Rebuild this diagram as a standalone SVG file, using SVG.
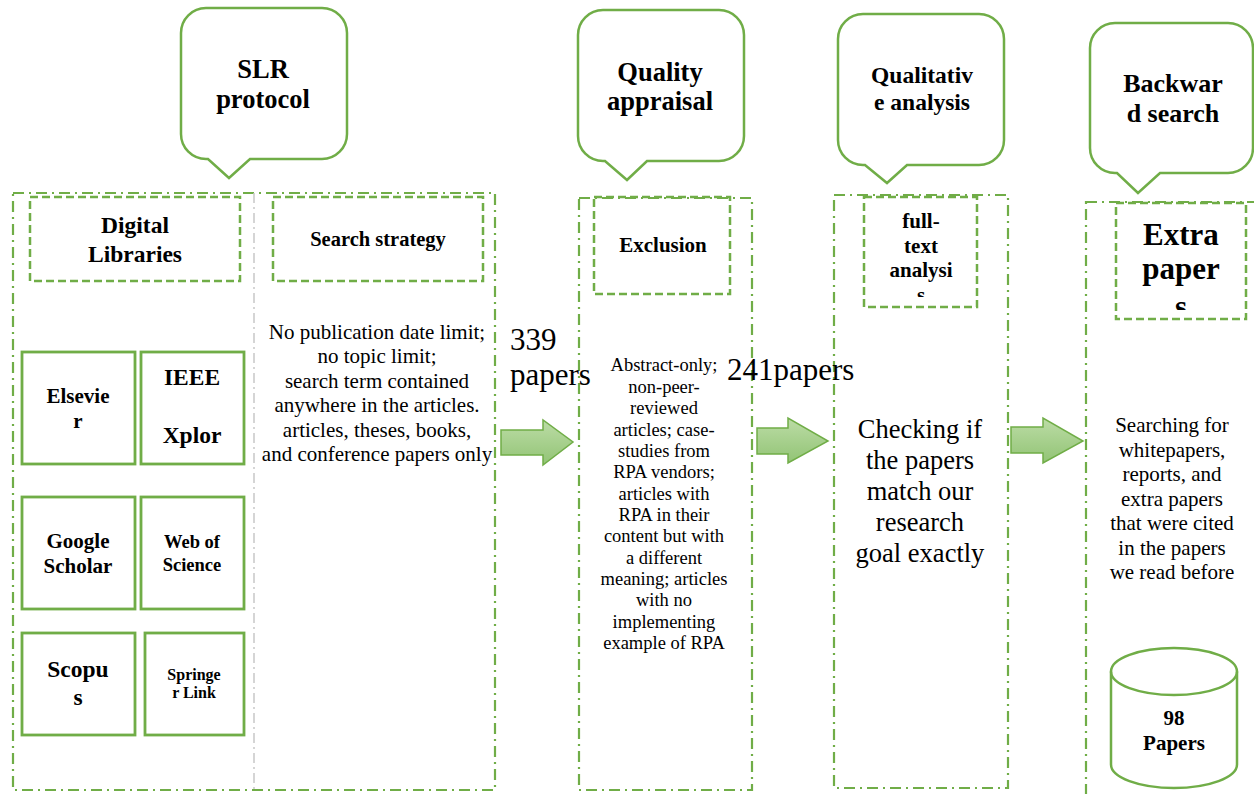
<svg xmlns="http://www.w3.org/2000/svg" width="1254" height="794" viewBox="0 0 1254 794">
<style>
  .callout{fill:#fff;stroke:#70ad47;stroke-width:2.5;}
  .cont{fill:none;stroke:#70ad47;stroke-width:2.2;stroke-dasharray:11 5 2 5;}
  .dbox{fill:none;stroke:#70ad47;stroke-width:2.5;stroke-dasharray:8 4;}
  .lib{fill:#fff;stroke:#70ad47;stroke-width:2.8;}
  .arrow{fill:url(#ag);stroke:#70ad47;stroke-width:1.5;}
  .divider{stroke:#c8c8c8;stroke-width:1.5;stroke-dasharray:10 4 2 4;fill:none;}
  text{font-family:"Liberation Serif","Times New Roman",serif;fill:#000;text-anchor:middle;}
  .b{font-weight:bold;}
</style>
<defs>
  <linearGradient id="ag" x1="0" y1="0" x2="0" y2="1">
    <stop offset="0" stop-color="#bcdca6"/>
    <stop offset="1" stop-color="#92c475"/>
  </linearGradient>
  <clipPath id="clipFT"><rect x="864" y="197" width="113" height="100"/></clipPath>
  <clipPath id="clipEP"><rect x="1116" y="203" width="130" height="107"/></clipPath>
</defs>
<rect width="1254" height="794" fill="#fff"/>

<g id="slr-protocol">
  <path class="callout" d="M206,8 H322 A25,25 0 0 1 347,33 V134 A25,25 0 0 1 322,159 H250 L229,178 L208,159 H206 A25,25 0 0 1 181,134 V33 A25,25 0 0 1 206,8 Z"/>
  <text class="b" x="263" y="78" font-size="26.5">SLR</text>
  <text class="b" x="263" y="108" font-size="26.5">protocol</text>
</g>
<g id="slr-container">
  <rect class="cont" x="13" y="193" width="482" height="597"/>
  <line class="divider" x1="254" y1="193" x2="254" y2="790"/>
</g>
<g id="digital-libraries">
  <rect class="dbox" x="30" y="197" width="210" height="84"/>
  <text class="b" x="135" y="233" font-size="23.5">Digital</text>
  <text class="b" x="135" y="262" font-size="23.5">Libraries</text>
</g>
<g id="search-strategy">
  <rect class="dbox" x="273" y="197" width="210" height="84"/>
  <text class="b" x="378" y="246" font-size="20.5">Search strategy</text>
</g>
<g id="search-strategy-text" font-size="21">
  <text x="377" y="338.5">No publication date limit;</text>
  <text x="377" y="363">no topic limit;</text>
  <text x="377" y="387.5">search term contained</text>
  <text x="377" y="412">anywhere in the articles.</text>
  <text x="377" y="436.5">articles, theses, books,</text>
  <text x="377" y="461">and conference papers only</text>
</g>
<g id="elsevier">
  <rect class="lib" x="22" y="352" width="113" height="112"/>
  <text class="b" x="78" y="403" font-size="21">Elsevie</text>
  <text class="b" x="78" y="428" font-size="21">r</text>
</g>
<g id="ieee-xplor">
  <rect class="lib" x="141" y="352" width="103" height="112"/>
  <text class="b" x="192" y="385" font-size="23.5">IEEE</text>
  <text class="b" x="192" y="443" font-size="23.5">Xplor</text>
</g>
<g id="google-scholar">
  <rect class="lib" x="22" y="497" width="113" height="112"/>
  <text class="b" x="78" y="548" font-size="21">Google</text>
  <text class="b" x="78" y="573" font-size="21">Scholar</text>
</g>
<g id="web-of-science">
  <rect class="lib" x="141" y="497" width="103" height="112"/>
  <text class="b" x="192" y="548" font-size="18.5">Web of</text>
  <text class="b" x="192" y="571" font-size="18.5">Science</text>
</g>
<g id="scopus">
  <rect class="lib" x="22" y="633" width="113" height="102"/>
  <text class="b" x="78" y="677" font-size="23.5">Scopu</text>
  <text class="b" x="78" y="705" font-size="23.5">s</text>
</g>
<g id="springer-link">
  <rect class="lib" x="145" y="633" width="99" height="102"/>
  <text class="b" x="194" y="680" font-size="16">Springe</text>
  <text class="b" x="194" y="698" font-size="16">r Link</text>
</g>

<g id="quality-appraisal">
  <path class="callout" d="M603,10 H719 A25,25 0 0 1 744,35 V136 A25,25 0 0 1 719,161 H647 L627,180 L605,161 H603 A25,25 0 0 1 578,136 V35 A25,25 0 0 1 603,10 Z"/>
  <text class="b" x="660" y="81" font-size="26.5">Quality</text>
  <text class="b" x="660" y="110" font-size="26.5">appraisal</text>
</g>
<g id="quality-container">
  <rect class="cont" x="579" y="198" width="173" height="592"/>
</g>
<g id="exclusion">
  <rect class="dbox" x="594" y="197" width="136" height="97"/>
  <text class="b" x="663" y="252" font-size="21">Exclusion</text>
</g>
<g id="exclusion-text" font-size="18.5">
  <text x="664" y="371">Abstract-only;</text>
  <text x="664" y="392.5">non-peer-</text>
  <text x="664" y="414">reviewed</text>
  <text x="664" y="435.5">articles; case-</text>
  <text x="664" y="457">studies from</text>
  <text x="664" y="478">RPA vendors;</text>
  <text x="664" y="499.5">articles with</text>
  <text x="664" y="521">RPA in their</text>
  <text x="664" y="542">content but with</text>
  <text x="664" y="563.5">a different</text>
  <text x="664" y="585">meaning; articles</text>
  <text x="664" y="606">with no</text>
  <text x="664" y="627.5">implementing</text>
  <text x="664" y="649">example of RPA</text>
</g>

<g id="qualitative-analysis">
  <path class="callout" d="M863,14 H979 A25,25 0 0 1 1004,39 V140 A25,25 0 0 1 979,165 H907 L887,183 L865,165 H863 A25,25 0 0 1 838,140 V39 A25,25 0 0 1 863,14 Z"/>
  <text class="b" x="922" y="83" font-size="23.5">Qualitativ</text>
  <text class="b" x="922" y="110" font-size="23.5">e analysis</text>
</g>
<g id="qualitative-container">
  <rect class="cont" x="834" y="195" width="174" height="593"/>
</g>
<g id="full-text-analysis">
  <rect class="dbox" x="864" y="197" width="113" height="110"/>
  <g clip-path="url(#clipFT)" font-size="21">
    <text class="b" x="921" y="228">full-</text>
    <text class="b" x="921" y="253">text</text>
    <text class="b" x="921" y="277">analysi</text>
    <text class="b" x="921" y="302">s</text>
  </g>
</g>
<g id="checking-text" font-size="26.5">
  <text x="920" y="438">Checking if</text>
  <text x="920" y="469">the papers</text>
  <text x="920" y="500">match our</text>
  <text x="920" y="531">research</text>
  <text x="920" y="562">goal exactly</text>
</g>

<g id="backward-search">
  <path class="callout" d="M1115,23 H1228 A25,25 0 0 1 1253,48 V148 A25,25 0 0 1 1228,173 H1160 L1138,193 L1117,173 H1115 A25,25 0 0 1 1090,148 V48 A25,25 0 0 1 1115,23 Z"/>
  <text class="b" x="1173" y="92" font-size="26">Backwar</text>
  <text class="b" x="1173" y="122" font-size="26">d search</text>
</g>
<g id="backward-container">
  <rect class="cont" x="1086" y="202" width="220" height="640"/>
</g>
<g id="extra-papers">
  <rect class="dbox" x="1116" y="203" width="130" height="116"/>
  <g clip-path="url(#clipEP)" font-size="31">
    <text class="b" x="1181" y="245">Extra</text>
    <text class="b" x="1181" y="279">paper</text>
    <text class="b" x="1181" y="317">s</text>
  </g>
</g>
<g id="searching-text" font-size="21">
  <text x="1172" y="432">Searching for</text>
  <text x="1172" y="456.5">whitepapers,</text>
  <text x="1172" y="481">reports, and</text>
  <text x="1172" y="505.5">extra papers</text>
  <text x="1172" y="530">that were cited</text>
  <text x="1172" y="554.5">in the papers</text>
  <text x="1172" y="579">we read before</text>
</g>
<g id="papers-98">
  <path fill="#fff" stroke="#70ad47" stroke-width="2.5" d="M1111,671.5 A63,23.5 0 0 1 1237,671.5 V764.5 A63,23.5 0 0 1 1111,764.5 Z"/>
  <path fill="none" stroke="#70ad47" stroke-width="2.5" d="M1111,671.5 A63,23.5 0 0 0 1237,671.5"/>
  <text class="b" x="1174" y="725" font-size="21">98</text>
  <text class="b" x="1174" y="750" font-size="21">Papers</text>
</g>

<g id="connectors">
  <path class="arrow" d="M501,430 H543 V420 L573,442 L543,465 V455 H501 Z"/>
  <path class="arrow" d="M757,428 H788 V418 L828,441 L788,463 V454 H757 Z"/>
  <path class="arrow" d="M1011,427 H1043 V418 L1083,441 L1043,463 V453 H1011 Z"/>
  <g id="connector-labels" font-size="31">
    <text x="510" y="350" style="text-anchor:start">339</text>
    <text x="510" y="385" style="text-anchor:start">papers</text>
    <text x="727" y="380" style="text-anchor:start">241papers</text>
  </g>
</g>
</svg>
